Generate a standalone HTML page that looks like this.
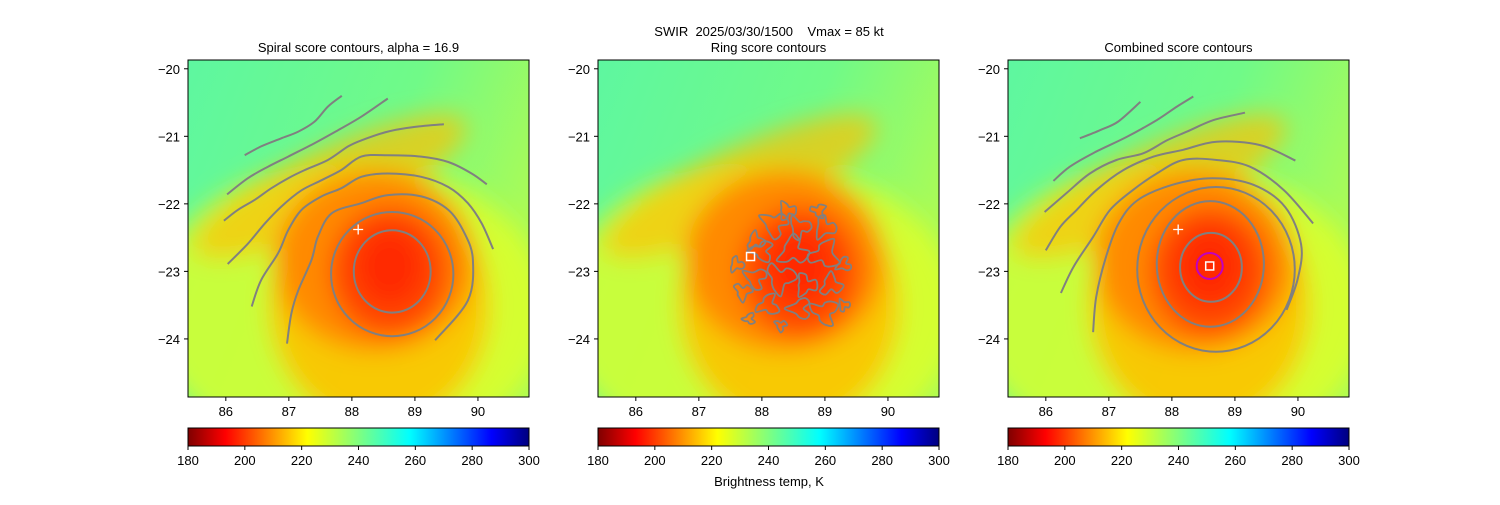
<!DOCTYPE html>
<html><head><meta charset="utf-8">
<style>
body{margin:0;background:#fff;width:1500px;height:500px;overflow:hidden;font-family:"Liberation Sans",sans-serif}
svg text{font-family:"Liberation Sans",sans-serif;fill:#000;white-space:pre}
</style></head>
<body>
<svg id="fig" width="1500" height="500" xmlns="http://www.w3.org/2000/svg">
<defs>
<linearGradient id="jetr" x1="0" x2="1" y1="0" y2="0">
<stop offset="0" stop-color="#7f0000"/><stop offset="0.11" stop-color="#ff0000"/>
<stop offset="0.35" stop-color="#ffff00"/><stop offset="0.5" stop-color="#7fff7f"/>
<stop offset="0.65" stop-color="#00ffff"/><stop offset="0.89" stop-color="#0000ff"/>
<stop offset="1" stop-color="#00007f"/></linearGradient>
<linearGradient id="bgg" x1="0" x2="1" y1="0" y2="0.4">
<stop offset="0" stop-color="#5ef7a0"/><stop offset="0.6" stop-color="#70fa88"/><stop offset="1" stop-color="#a8fb58"/></linearGradient>
<filter id="blur" x="-50%" y="-50%" width="200%" height="200%"><feGaussianBlur stdDeviation="12"/></filter>
</defs>
<text x="769" y="36" font-size="13" text-anchor="middle">SWIR  2025/03/30/1500    Vmax = 85 kt</text>
<text x="769" y="486" font-size="13" text-anchor="middle">Brightness temp, K</text>
</svg>
<script>
const titles=["Spiral score contours, alpha = 16.9","Ring score contours","Combined score contours"];
const xTicks=[86,87,88,89,90];
const yTicks=[-20,-21,-22,-23,-24];
const cbTicks=[180,200,220,240,260,280,300];
const stormCenter=[88.6,-23.0];
const firstGuess=[88.1,-22.38];
const ringCenter=[87.82,-22.78];
const combinedCenter=[88.6,-22.92];
// closed contour ellipses: lon, lat, rx, ry (deg)
const spiralRings=[[88.64,-23.0,0.61,0.61],[88.64,-23.04,0.97,0.92]];
const combinedRings=[[88.62,-22.94,0.49,0.51],[88.61,-22.89,0.85,0.93],[88.70,-22.97,1.25,1.22]];
// open contour vertices (lon, lat)
const spiralLines=[
 [[86.97,-24.07],[87.04,-23.62],[87.15,-23.28],[87.36,-22.83],[87.46,-22.49],[87.68,-22.14],[88.15,-21.99],[88.57,-21.87],[89.10,-21.89],[89.53,-22.09],[89.79,-22.44],[89.92,-22.83],[89.84,-23.43],[89.32,-24.02]],
 [[86.41,-23.52],[86.56,-23.13],[86.83,-22.73],[86.99,-22.39],[87.20,-22.09],[87.52,-21.89],[87.83,-21.77],[88.15,-21.60],[88.57,-21.55],[89.10,-21.60],[89.53,-21.75],[89.84,-21.99],[90.06,-22.29],[90.24,-22.67]],
 [[86.03,-22.89],[86.35,-22.59],[86.62,-22.29],[86.88,-22.04],[87.20,-21.80],[87.52,-21.65],[87.83,-21.50],[88.15,-21.30],[88.57,-21.28],[89.10,-21.30],[89.53,-21.38],[89.90,-21.55],[90.14,-21.71]],
 [[85.97,-22.25],[86.19,-22.09],[86.46,-21.94],[86.72,-21.77],[86.99,-21.62],[87.25,-21.50],[87.62,-21.35],[87.94,-21.15],[88.15,-21.06],[88.57,-20.93],[89.00,-20.86],[89.46,-20.82]],
 [[86.02,-21.86],[86.35,-21.62],[86.67,-21.45],[86.99,-21.30],[87.41,-21.10],[87.78,-20.91],[88.15,-20.71],[88.57,-20.44]],
 [[86.30,-21.28],[86.56,-21.15],[86.88,-21.03],[87.15,-20.93],[87.41,-20.78],[87.62,-20.56],[87.84,-20.40]]
];
const combinedLines=[
 [[86.75,-23.90],[86.80,-23.38],[86.95,-22.80],[87.15,-22.30],[87.45,-21.95],[88.0,-21.72],[88.65,-21.62],[89.3,-21.72],[89.8,-22.05],[90.05,-22.6],[90.0,-23.1],[89.82,-23.57]],
 [[86.24,-23.32],[86.44,-22.93],[86.75,-22.49],[87.02,-22.09],[87.39,-21.79],[87.76,-21.55],[88.18,-21.35],[88.71,-21.35],[89.24,-21.45],[89.77,-21.79],[90.24,-22.29]],
 [[86.00,-22.69],[86.23,-22.34],[86.49,-22.09],[86.81,-21.79],[87.23,-21.50],[87.71,-21.30],[88.18,-21.20],[88.71,-21.08],[89.40,-21.13],[89.96,-21.36]],
 [[85.98,-22.12],[86.33,-21.84],[86.70,-21.55],[87.12,-21.35],[87.55,-21.25],[87.92,-21.06],[88.24,-20.93],[88.66,-20.76],[89.16,-20.65]],
 [[86.12,-21.66],[86.38,-21.45],[86.75,-21.25],[87.28,-21.01],[87.76,-20.76],[88.08,-20.56],[88.34,-20.41]],
 [[86.54,-21.03],[86.86,-20.91],[87.15,-20.78],[87.50,-20.49]]
];
// ring panel blob centers (lon,lat) and sizes
const ringBlobs=[[88.2,-22.3,0.18],[88.6,-22.35,0.15],[89.0,-22.35,0.15],[88.5,-22.7,0.2],[89.0,-22.75,0.2],[88.0,-22.7,0.15],[87.9,-23.1,0.15],[88.3,-23.1,0.2],[88.7,-23.2,0.15],[89.1,-23.2,0.15],[88.1,-23.5,0.15],[88.6,-23.55,0.15],[89.0,-23.6,0.18],[87.7,-23.3,0.12],[88.4,-22.1,0.12],[87.9,-22.55,0.12],[89.3,-22.9,0.1],[87.8,-23.7,0.08],[88.9,-22.1,0.1],[88.3,-23.8,0.08],[89.3,-23.5,0.08],[87.6,-22.9,0.1]];

const NS="http://www.w3.org/2000/svg";
const fig=document.getElementById('fig');
function el(t,a,p){const e=document.createElementNS(NS,t);for(const k in a)e.setAttribute(k,a[k]);(p||fig).appendChild(e);return e;}
function smooth(pts,closed){
  let d='M'+pts[0][0].toFixed(1)+','+pts[0][1].toFixed(1);const n=pts.length;
  for(let i=0;i<(closed?n:n-1);i++){
    const p0=pts[closed?(i-1+n)%n:Math.max(i-1,0)],p1=pts[i],p2=pts[(i+1)%n],p3=pts[closed?(i+2)%n:Math.min(i+2,n-1)];
    const c1=[p1[0]+(p2[0]-p0[0])/6,p1[1]+(p2[1]-p0[1])/6],c2=[p2[0]-(p3[0]-p1[0])/6,p2[1]-(p3[1]-p1[1])/6];
    d+=`C${c1[0].toFixed(1)},${c1[1].toFixed(1)} ${c2[0].toFixed(1)},${c2[1].toFixed(1)} ${p2[0].toFixed(1)},${p2[1].toFixed(1)}`;}
  return d+(closed?'Z':'');
}
const L0=85.40,L1=90.81,T0=-19.87,T1=-24.86,W=341,H=337;
const offs=[188,598,1008];
function drawPanel(i){
  const ox=offs[i],oy=60;
  const X=lon=>ox+(lon-L0)/(L1-L0)*W, Y=lat=>oy+(T0-lat)/(T0-T1)*H;
  const sx=W/(L1-L0), sy=H/(T0-T1);
  const g=el('g',{});
  
  
  const cp=el('clipPath',{id:'cp'+i},g);el('rect',{x:ox,y:oy,width:W,height:H},cp);
  const img=el('g',{'clip-path':'url(#cp'+i+')'},g);
  
  
  el('rect',{x:ox,y:oy,width:W,height:H,fill:'url(#bgg)'},img);
  const cx=X(stormCenter[0]),cy=Y(stormCenter[1]);
  const bl=el('g',{filter:'url(#blur)'},img);
  el('ellipse',{cx:cx-40,cy:cy+40,rx:200,ry:150,fill:'#e0ff28',opacity:0.8},bl);
  el('ellipse',{cx:cx-60,cy:cy-85,rx:150,ry:38,fill:'#ffc000',opacity:0.7,transform:`rotate(-25 ${cx-60} ${cy-85})`},bl);
  el('ellipse',{cx:cx-10,cy:cy+35,rx:110,ry:120,fill:'#ffc000',opacity:0.85},bl);
  el('ellipse',{cx:cx-15,cy:cy-10,rx:100,ry:90,fill:'#ff8a00'},bl);
  el('ellipse',{cx:cx,cy:cy,rx:60,ry:65,fill:'#ff4a00'},bl);
  el('ellipse',{cx:cx,cy:cy-5,rx:35,ry:40,fill:'#ff2a00'},bl);
  el('rect',{x:ox,y:oy,width:W,height:H,fill:'none',stroke:'#000','stroke-width':1},g);
  xTicks.forEach(v=>{const x=X(v);el('line',{x1:x,x2:x,y1:oy+H,y2:oy+H+4,stroke:'#000'},g);
    const t=el('text',{x:x,y:oy+H+19,'font-size':13,'text-anchor':'middle'},g);t.textContent=v;
    });
  yTicks.forEach(v=>{const y=Y(v);el('line',{x1:ox-4,x2:ox,y1:y,y2:y,stroke:'#000'},g);
    const t=el('text',{x:ox-8,y:y+5,'font-size':13,'text-anchor':'end'},g);t.textContent='\u2212'+Math.abs(v);
    });
  const tt=el('text',{x:ox+W/2,y:oy-8,'font-size':13,'text-anchor':'middle'},g);tt.textContent=titles[i];
  
  const cont=el('g',{'clip-path':'url(#cp'+i+')',fill:'none',stroke:'#808080','stroke-width':2},g);
  
  if(i!==1){
    const rings=i===0?spiralRings:combinedRings, lines=i===0?spiralLines:combinedLines;
    rings.forEach(r=>{const e=el('ellipse',{cx:X(r[0]),cy:Y(r[1]),rx:r[2]*sx,ry:r[3]*sy},cont);
      });
    lines.forEach(ln=>{const p=el('path',{d:smooth(ln.map(q=>[X(q[0]),Y(q[1])]),false)},cont);
      });
  } else {
    ringBlobs.forEach((b,k)=>{const pts=[];for(let t=0;t<360;t+=30){const th=t*Math.PI/180;const w=1+0.4*Math.sin(3*th+k)+0.2*Math.cos(5*th+2*k);
      pts.push([X(b[0]+b[2]*w*Math.cos(th)),Y(b[1]+b[2]*w*0.9*Math.sin(th))]);}
      const p=el('path',{d:smooth(pts,true),'stroke-width':1.8},cont);});
  }
  if(i!==1){const fx=X(firstGuess[0]),fy=Y(firstGuess[1]);
    const m=el('path',{d:`M${fx-5},${fy}H${fx+5}M${fx},${fy-5}V${fy+5}`,stroke:'#fff','stroke-width':1.3},g);
    }
  if(i===1){const rx=X(ringCenter[0]),ry=Y(ringCenter[1]);
    const m=el('rect',{x:rx-4,y:ry-4,width:8,height:8,fill:'none',stroke:'#fff','stroke-width':1.5},g);
    }
  if(i===2){const rx=X(combinedCenter[0]),ry=Y(combinedCenter[1]);
    const c=el('circle',{cx:rx,cy:ry,r:13,fill:'none',stroke:'#c000c0','stroke-width':2},g);
    
    const m=el('rect',{x:rx-4,y:ry-4,width:8,height:8,fill:'none',stroke:'#fff','stroke-width':1.5},g);
    }
  const cb=el('g',{},g);
  el('rect',{x:ox,y:428,width:W,height:18,fill:'url(#jetr)',stroke:'#000','stroke-width':1},cb);
  const C=v=>ox+(v-180)/120*W;
  cbTicks.forEach(v=>{const x=C(v);el('line',{x1:x,x2:x,y1:446,y2:450,stroke:'#000'},cb);
    const t=el('text',{x:x,y:465,'font-size':13,'text-anchor':'middle'},cb);t.textContent=v;
    });
}
[0,1,2].forEach(drawPanel);
</script>
</body></html>
